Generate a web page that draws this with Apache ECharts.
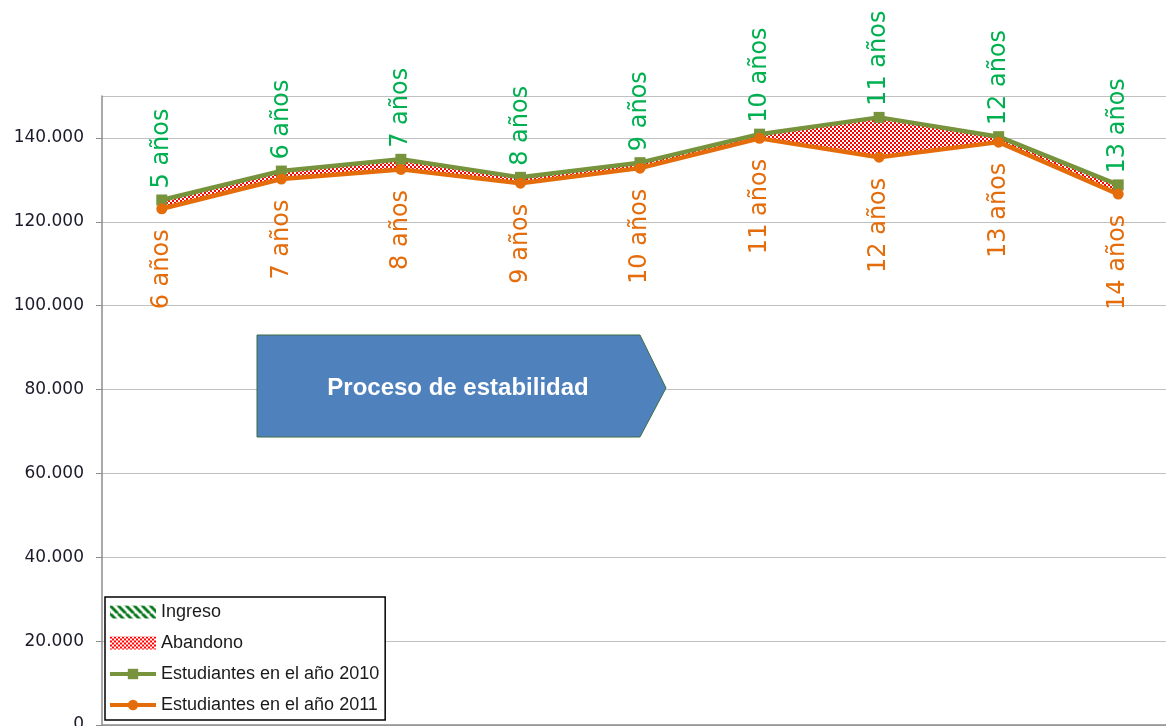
<!DOCTYPE html>
<html>
<head>
<meta charset="utf-8">
<style>
  html, body { margin: 0; padding: 0; background: #fff; }
  #chart { width: 1166px; height: 726px; }
</style>
<script src="https://cdn.jsdelivr.net/npm/echarts@6/dist/echarts.min.js"></script>
</head>
<body>
<div id="chart"></div>
<script>
// cohortes: edad en 2010 -> edad en 2011
const categories = ['5-6', '6-7', '7-8', '8-9', '9-10', '10-11', '11-12', '12-13', '13-14']
const labels2010 = ['5 años', '6 años', '7 años', '8 años', '9 años', '10 años', '11 años', '12 años', '13 años']
const labels2011 = ['6 años', '7 años', '8 años', '9 años', '10 años', '11 años', '12 años', '13 años', '14 años']
const students2010 = [125200, 132100, 134900, 130600, 134100, 140900, 144900, 140300, 128800]
const students2011 = [123100, 130200, 132500, 129200, 132800, 139900, 135400, 139000, 126600]
const yTicks = [0, 20000, 40000, 60000, 80000, 100000, 120000, 140000]

// banda entre las dos lineas
const bandBase = students2010.map((v, i) => Math.min(v, students2011[i]))
const abandono = students2010.map((v, i) => Math.max(v - students2011[i], 0))
const ingreso = students2010.map((v, i) => Math.max(students2011[i] - v, 0))

function checker() {
    const c = document.createElement('canvas')
    c.width = 4; c.height = 4
    const ctx = c.getContext('2d')
    ctx.fillStyle = '#ffffff'
    ctx.fillRect(0, 0, 4, 4)
    ctx.fillStyle = '#ff0000'
    ctx.fillRect(0, 0, 2, 2)
    ctx.fillRect(2, 2, 2, 2)
    return { image: c, repeat: 'repeat' }
}

function stripes() {
    const c = document.createElement('canvas')
    c.width = 8; c.height = 8
    const ctx = c.getContext('2d')
    ctx.fillStyle = '#ffffff'
    ctx.fillRect(0, 0, 8, 8)
    ctx.strokeStyle = '#0a7a1e'
    ctx.lineWidth = 3
    for (let k = -8; k <= 8; k += 8) {
        ctx.beginPath()
        ctx.moveTo(k, 0)
        ctx.lineTo(k + 8, 8)
        ctx.stroke()
    }
    return { image: c, repeat: 'repeat' }
}

const redPattern = checker()
const greenPattern = stripes()

function fmt(v) {
    return String(v).replace(/\B(?=(\d{3})+(?!\d))/g, '.')
}

const myChart = echarts.init(document.getElementById('chart'))
myChart.setOption({
    animation: false,
    grid: {
        left: 102,
        top: 96,
        width: 1076,
        height: 629,
        outerBoundsMode: 'none',
    },
    legend: {
        orient: 'vertical',
        left: 105,
        top: 597,
        padding: [6, 6, 6, 3],
        itemGap: 13,
        itemWidth: 46,
        itemHeight: 13,
        itemTextGap: 3,
        backgroundColor: '#ffffff',
        borderColor: '#000000',
        borderWidth: 1.5,
        borderRadius: 0,
        textStyle: {
            fontFamily: 'Liberation Sans',
            fontSize: 18,
            color: '#1a1a1a',
        },
        data: [
            { name: 'Ingreso', icon: 'rect' },
            { name: 'Abandono', icon: 'rect' },
            { name: 'Estudiantes en el año 2010', lineStyle: { width: 4 } },
            { name: 'Estudiantes en el año 2011', lineStyle: { width: 4 } },
        ],
    },
    xAxis: {
        type: 'category',
        data: categories,
        axisLine: { show: true, lineStyle: { color: '#8c8c8c', width: 1.5 } },
        axisTick: { show: false },
        axisLabel: { show: false },
        splitLine: { show: false },
    },
    yAxis: {
        type: 'value',
        min: yTicks[0],
        max: 150000,
        interval: yTicks[1] - yTicks[0],
        axisLine: { show: true, lineStyle: { color: '#8c8c8c', width: 1.5 } },
        axisTick: { show: true, length: 6, lineStyle: { color: '#8c8c8c' } },
        splitLine: { show: true, lineStyle: { color: '#c0c0c0', width: 1.2 } },
        axisLabel: {
            showMaxLabel: false,
            margin: 18,
            color: '#1a1a2a',
            fontFamily: 'DejaVu Sans',
            fontSize: 17,
            formatter: fmt,
        },
    },
    series: [
        // series de leyenda para los rellenos
        { name: 'Ingreso', type: 'bar', data: [], itemStyle: { color: greenPattern } },
        { name: 'Abandono', type: 'bar', data: [], itemStyle: { color: redPattern } },
        {
            name: '_base', type: 'line', stack: 'band', data: bandBase,
            symbol: 'none', lineStyle: { opacity: 0 }, silent: true, z: 1,
        },
        {
            name: 'Abandono', type: 'line', stack: 'band', data: abandono,
            symbol: 'none', lineStyle: { width: 0, opacity: 0 },
            areaStyle: { color: redPattern, opacity: 1 }, z: 1,
        },
        {
            name: 'Ingreso', type: 'line', stack: 'band', data: ingreso,
            symbol: 'none', lineStyle: { width: 0, opacity: 0 },
            areaStyle: { color: greenPattern, opacity: 1 }, z: 1,
        },
        {
            name: 'Estudiantes en el año 2010', type: 'line', data: students2010,
            symbol: 'rect', symbolSize: 11,
            lineStyle: { color: '#77933c', width: 4.5 },
            itemStyle: { color: '#77933c' },
            z: 3,
            label: {
                show: true,
                position: 'top',
                rotate: 90,
                align: 'left',
                verticalAlign: 'middle',
                distance: 6,
                color: '#00b050',
                fontFamily: 'DejaVu Sans',
                fontSize: 24,
                formatter: (p) => labels2010[p.dataIndex],
            },
        },
        {
            name: 'Estudiantes en el año 2011', type: 'line', data: students2011,
            symbol: 'circle', symbolSize: 11,
            lineStyle: { color: '#e46c0a', width: 4.5 },
            itemStyle: { color: '#e46c0a' },
            z: 4,
            label: {
                show: true,
                position: 'bottom',
                rotate: 90,
                align: 'right',
                verticalAlign: 'middle',
                distance: 15,
                color: '#e46c0a',
                fontFamily: 'DejaVu Sans',
                fontSize: 24,
                formatter: (p) => labels2011[p.dataIndex],
            },
        },
    ],
    graphic: [
        {
            type: 'polygon',
            z: 10,
            shape: { points: [[257, 335], [640, 335], [666, 388], [640, 437], [257, 437]] },
            style: { fill: '#4f81bd', stroke: '#3d6b45', lineWidth: 1 },
        },
        {
            type: 'text',
            z: 11,
            style: {
                text: 'Proceso de estabilidad',
                x: 458,
                y: 388,
                align: 'center',
                verticalAlign: 'middle',
                fill: '#ffffff',
                font: 'bold 24px "Liberation Sans"',
            },
        },
    ],
})
</script>
</body>
</html>
